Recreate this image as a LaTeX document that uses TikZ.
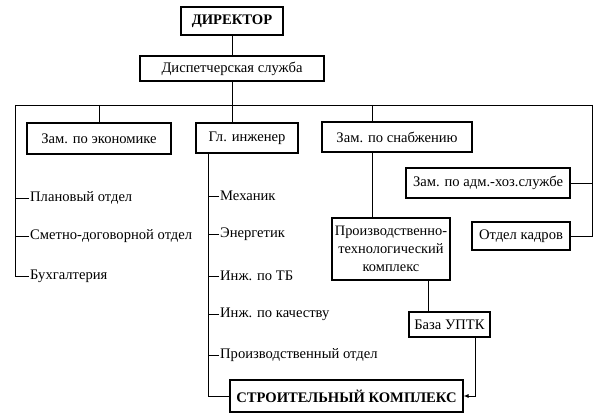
\documentclass[tikz,border=0pt]{standalone}
\usepackage{fontspec}
\setmainfont{Liberation Serif}
\usepackage{tikz}
\usetikzlibrary{arrows.meta,positioning}

\begin{document}
\begin{tikzpicture}[x=1pt,y=-1pt,>=Latex,
  box/.style={draw=black,line width=1.1pt,fill=white,align=center,inner sep=1pt,font=\fontsize{14.6}{16}\selectfont},
  item/.style={anchor=west,inner sep=1pt,font=\fontsize{14.6}{16}\selectfont},
  link/.style={line width=0.9pt}]
\useasboundingbox (0,0) rectangle (613,419);
% top of the chart
\node[box,minimum width=102,minimum height=28,font=\fontsize{14.6}{16}\selectfont\bfseries] (dir) at (232,21) {ДИРЕКТОР};
\node[box,minimum width=184,minimum height=25] (disp) at (232,68.5) {Диспетчерская служба};
\coordinate (busL) at (15,105);
\coordinate (busR) at (592,105);
\draw[link] (dir)--(disp);
\draw[link] (busL)--(busR);
% deputies
\node[box,minimum width=144,minimum height=31] (econ) at (99,138.5) {Зам. по экономике};
\node[box,minimum width=102,minimum height=30] (eng) at (247,138) {Гл. инженер};
\node[box,minimum width=150,minimum height=30] (snab) at (397,137) {Зам. по снабжению};
\node[box,minimum width=164,minimum height=30] (adm) at (488,183) {Зам. по адм.-хоз.службе};
\node[box,minimum width=98,minimum height=28] (kadr) at (521,236) {Отдел кадров};
\draw[link] (disp.south)--(eng.north -| disp.south);
\draw[link] (busL -| econ.north)--(econ.north);
\draw[link] (busL -| 372,0)--(snab.north -| 372,0);
\draw[link] (busR) |- (kadr.east);
\draw[link] (adm.east)--(adm.east -| busR);
% economics
\node[item] (plan) at (29,198) {Плановый отдел};
\node[item] (smet) at (29,236) {Сметно-договорной отдел};
\node[item] (buh) at (29,276) {Бухгалтерия};
\draw[link] (busL) |- (buh.west);
\draw[link] (plan.west)--(plan.west -| busL);
\draw[link] (smet.west)--(smet.west -| busL);
% chief engineer
\coordinate (engL) at (eng.south -| 208,0);
\node[item] (mech) at (219,196) {Механик};
\node[item] (energ) at (219,234) {Энергетик};
\node[item] (tb) at (219,276) {Инж. по ТБ};
\node[item] (kach) at (219,314) {Инж. по качеству};
\node[item] (potd) at (219,355) {Производственный отдел};
\node[box,minimum width=233,minimum height=32,font=\fontsize{14.6}{16}\selectfont\bfseries] (stroy) at (346.5,396) {СТРОИТЕЛЬНЫЙ КОМПЛЕКС};
\draw[link] (engL) |- (stroy.west);
\foreach \it in {mech,energ,tb,kach,potd}
  \draw[link] (\it.west)--(\it.west -| engL);
% supply
\node[box,minimum width=118,minimum height=62,font=\fontsize{14.4}{18}\selectfont] (ptk) at (391,249) {Производственно-\\технологический\\комплекс};
\node[box,minimum width=81,minimum height=25] (baza) at (449.5,324.5) {База УПТК};
\draw[link] (snab.south -| 372,0)--(ptk.north -| 372,0);
\draw[link] (ptk.south -| 428,0)--(baza.north -| 428,0);
\draw[link,-{Latex[length=5pt,width=4pt]}] (baza.south -| 475,0) |- (stroy.east);
\end{tikzpicture}
\end{document}
